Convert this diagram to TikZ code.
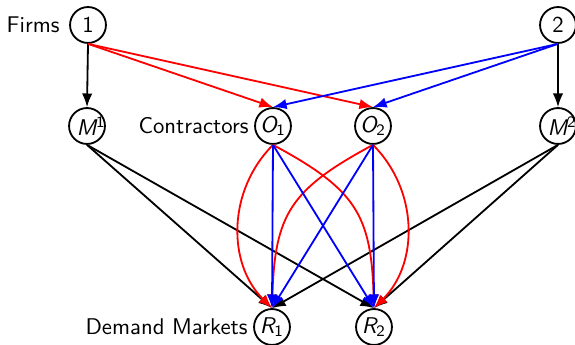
\documentclass[tikz,border=0pt]{standalone}
\usetikzlibrary{arrows.meta}
\begin{document}
\begin{tikzpicture}[x=0.44pt,y=-0.44pt,font=\sffamily,
  nd/.style={circle,draw,line width=0.8pt,minimum size=15.8pt,inner sep=0pt},
  lab/.style={anchor=east,inner sep=0pt},
  arr/.style={line width=0.8pt,-{Latex[length=6pt,width=4.6pt]}},
  redarr/.style={arr,red},
  bluearr/.style={arr,blue}]
\useasboundingbox (0,0) rectangle (575,345);
\node[nd] (f1) at (88,25) {1};
\node[nd] (f2) at (558,25) {2};
\node[nd] (m1) at (87,126) {\makebox[0pt]{\textit{M}\rlap{\kern-0.6pt\textsuperscript{1}}}};
\node[nd] (m2) at (558,126) {\makebox[0pt]{\textit{M}\rlap{\kern-0.6pt\textsuperscript{2}}}};
\node[nd] (o1) at (273,126) {\textit{O}\kern-0.8pt\textsubscript{1}};
\node[nd] (o2) at (373,126) {\textit{O}\kern-0.8pt\textsubscript{2}};
\node[nd] (r1) at (272,327) {\textit{R}\kern-0.8pt\textsubscript{1}};
\node[nd] (r2) at (374,327) {\textit{R}\kern-0.8pt\textsubscript{2}};
\node[lab] (lf) at (60,25) {Firms};
\node[lab] (lc) at (249,126) {Contractors};
\node[lab] (ld) at (248,327) {Demand Markets};
% firms
\draw[arr] (f1.south) -- (m1.north);
\draw[arr] (f2.south) -- (m2.north);
\draw[redarr] (f1.south) -- (o1.north);
\draw[redarr] (f1.south) -- (o2.north);
\draw[bluearr] (f2.south) -- (o1.north);
\draw[bluearr] (f2.south) -- (o2.north);
% manufacturers to markets
\draw[arr] (m1.south) -- (r1.north);
\draw[arr] (m1.south) -- (r2.north);
\draw[arr] (m2.south) -- (r1.north);
\draw[arr] (m2.south) -- (r2.north);
% contractors to markets, red curves
\draw[redarr] (o1.south) to[out=-135,in=135] (r1.north);
\draw[redarr] (o1.south) to[bend left=30,looseness=1.25] (r2.north);
\draw[redarr] (o2.south) to[bend right=30,looseness=1.25] (r1.north);
\draw[redarr] (o2.south) to[out=-45,in=45] (r2.north);
% blue straight
\draw[bluearr] (o1.south) -- (r1.north);
\draw[bluearr] (o1.south) -- (r2.north);
\draw[bluearr] (o2.south) -- (r1.north);
\draw[bluearr] (o2.south) -- (r2.north);
\end{tikzpicture}
\end{document}
